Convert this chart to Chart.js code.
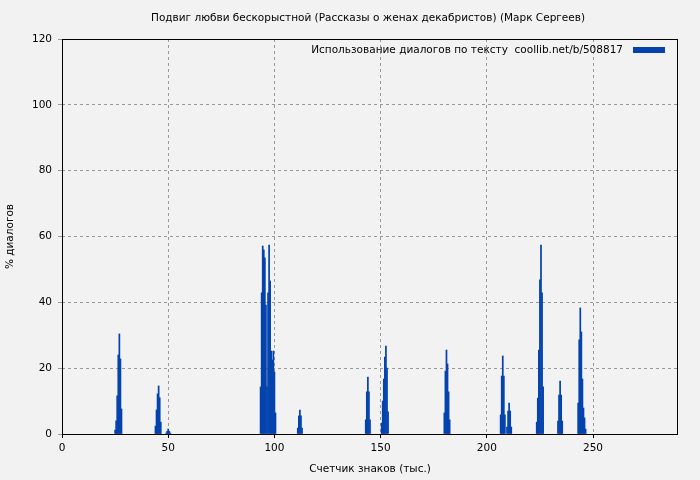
<!DOCTYPE html>
<html>
<head>
<meta charset="utf-8">
<script src="https://cdn.jsdelivr.net/npm/chart.js@4/dist/chart.umd.min.js"></script>
<style>
  body { margin: 0; background: #f2f2f2; }
  #wrap { width: 700px; height: 480px; }
</style>
</head>
<body>
<div id="wrap"><canvas id="chart" width="700" height="480"></canvas></div>
<script>
// positions in thousands of characters, and % of dialogue there
const positions = [
  25, 25.5, 26, 26.5, 27, 27.5, 28,
  44, 44.5, 45, 45.5, 46, 46.5,
  49, 49.5, 50, 50.5, 51,
  93.5, 94, 94.5, 95, 95.5, 96, 96.5, 97, 97.5, 98, 98.5, 99, 99.5, 100, 100.5,
  111, 111.5, 112, 112.5, 113,
  143, 143.5, 144, 144.5, 145,
  150.5, 151, 151.5, 152, 152.5, 153, 153.5,
  180, 180.5, 181, 181.5, 182, 182.5,
  206.5, 207, 207.5, 208, 208.5,
  209.5, 210, 210.5, 211, 211.5,
  223.5, 224, 224.5, 225, 225.5, 226, 226.5,
  233.5, 234, 234.5, 235, 235.5,
  243, 243.5, 244, 244.5, 245, 245.5, 246, 246.5
];
const dialogPct = [
  1.2, 4, 11.6, 24, 30.4, 22.8, 7.6,
  2.4, 7.3, 12.2, 14.6, 11, 3.6,
  0.3, 0.8, 1.5, 0.8, 0.3,
  14.3, 42.9, 57.1, 55.9, 53.5, 39.2, 14.3, 42.9, 57.4, 46.5, 25.2, 22.5, 25.2, 18.8, 6.4,
  1.8, 5.5, 7.3, 5.5, 1.8,
  4.3, 12.8, 17.3, 12.8, 4.3,
  3.3, 10, 16.7, 23.4, 26.7, 20, 6.7,
  6.4, 19.1, 25.5, 21.3, 12.8, 4.3,
  5.8, 17.6, 23.7, 17.6, 5.8,
  2.1, 7, 9.4, 7, 2.1,
  3.6, 10.9, 25.5, 46.8, 57.4, 42.9, 14.3,
  3.9, 11.8, 16.1, 11.8, 3.9,
  9.4, 28.6, 38.3, 31, 16.7, 7.9, 4.9, 1.5
];
const xTicks = [0, 50, 100, 150, 200, 250];
const yTicks = [0, 20, 40, 60, 80, 100, 120];

const chartTitle = "Подвиг любви бескорыстной (Рассказы о женах декабристов) (Марк Сергеев)";
const legendLabel = "Использование диалогов по тексту  coollib.net/b/508817";
const barColor = "#0443ad";
const font = "DejaVu Sans";

// Frame, title and legend drawn on the canvas
const decorPlugin = {
  id: "decor",
  beforeDraw(chart) {
    const c = chart.ctx;
    c.save();
    c.fillStyle = "#f2f2f2";
    c.fillRect(0, 0, chart.width, chart.height);
    c.restore();
  },
  afterDraw(chart) {
    const c = chart.ctx, a = chart.chartArea;
    c.save();
    c.strokeStyle = "#000";
    c.lineWidth = 1;
    c.strokeRect(a.left + 0.5, a.top + 0.5, a.right - a.left - 1, a.bottom - a.top);
    c.fillStyle = "#000";
    c.font = "10.5px '" + font + "'";
    c.textAlign = "center";
    c.textBaseline = "middle";
    c.fillText(chartTitle, 368, 18);
    c.textAlign = "right";
    c.fillText(legendLabel, 623, 50);
    c.fillStyle = barColor;
    c.fillRect(633, 47, 32, 6);
    c.restore();
  },
};

var ctx = document.getElementById("chart").getContext("2d");
var chart = new Chart(ctx, {
  type: "bar",
  data: {
    datasets: [
      {
        label: legendLabel,
        data: positions.map((x, i) => ({ x: x, y: dialogPct[i] })),
        backgroundColor: barColor,
        borderWidth: 0,
        barPercentage: 1,
        categoryPercentage: 1,
      },
    ],
  },
  options: {
    responsive: false,
    animation: false,
    layout: { padding: { top: 39, right: 22, left: 0, bottom: 0 } },
    plugins: { legend: { display: false }, tooltip: { enabled: false } },
    scales: {
      x: {
        type: "linear",
        offset: false,
        min: 0,
        max: 290,
        afterBuildTicks: (s) => { s.ticks = xTicks.map((v) => ({ value: v })); },
        afterFit: (s) => { s.height = 46; },
        ticks: { color: "#000", font: { family: font, size: 10.5 }, padding: 4 },
        grid: { color: "#999", tickColor: "#000", tickLength: 4, offset: false },
        border: { dash: [3, 3], display: false },
        title: { display: true, text: "Счетчик знаков (тыс.)", color: "#000", font: { family: font, size: 10.5 }, padding: { top: 4 } },
      },
      y: {
        min: 0,
        max: 120,
        afterBuildTicks: (s) => { s.ticks = yTicks.map((v) => ({ value: v })); },
        afterFit: (s) => { s.width = 62; },
        ticks: { color: "#000", font: { family: font, size: 10.5 }, padding: 6 },
        grid: { color: "#999", tickLength: 4 },
        border: { dash: [3, 3], display: false },
        title: { display: true, text: "% диалогов", color: "#000", font: { family: font, size: 10.5 } },
      },
    },
  },
  plugins: [decorPlugin],
});
</script>
</body>
</html>
